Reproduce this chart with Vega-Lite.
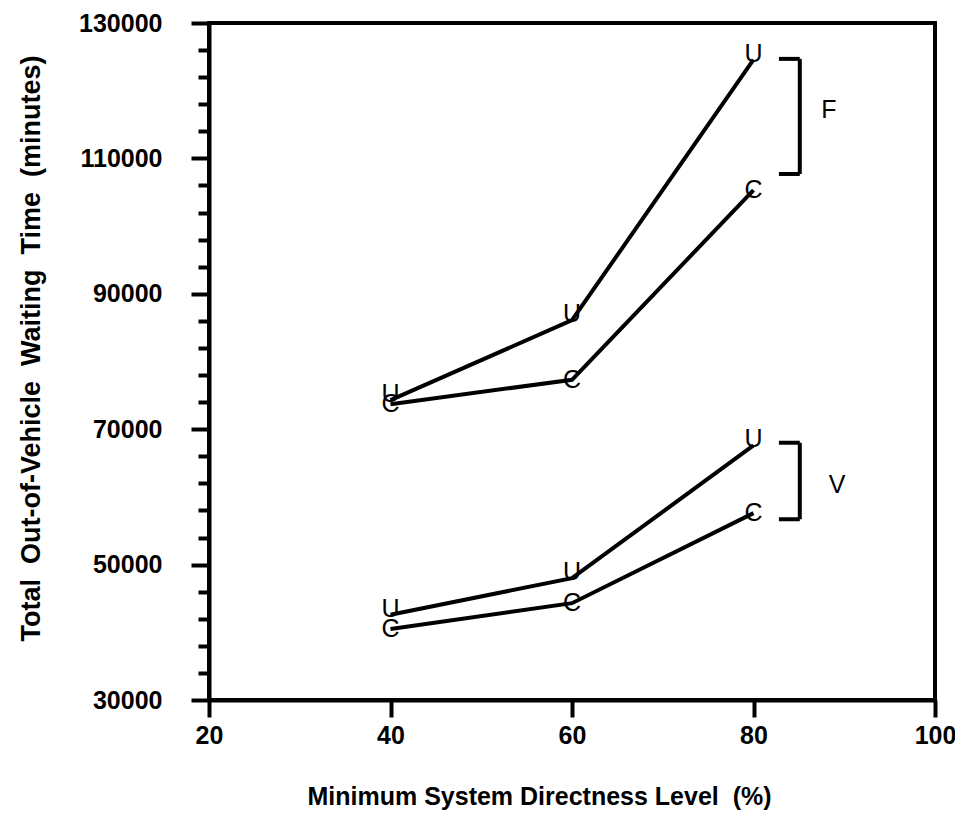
{
  "$schema": "https://vega.github.io/schema/vega-lite/v6.json",
  "width": 726,
  "height": 677,
  "autosize": {"type": "none"},
  "padding": {"left": 209, "top": 23, "right": 20, "bottom": 126},
  "background": "white",
  "config": {
    "view": {"stroke": "black", "strokeWidth": 4},
    "font": "Liberation Sans"
  },
  "datasets": {
    "series": [
      {"group": "F", "marker": "U", "series": "F-U", "x": 40, "y": 74300},
      {"group": "F", "marker": "U", "series": "F-U", "x": 60, "y": 86100},
      {"group": "F", "marker": "U", "series": "F-U", "x": 80, "y": 124600},
      {"group": "F", "marker": "C", "series": "F-C", "x": 40, "y": 73700},
      {"group": "F", "marker": "C", "series": "F-C", "x": 60, "y": 77300},
      {"group": "F", "marker": "C", "series": "F-C", "x": 80, "y": 105300},
      {"group": "V", "marker": "U", "series": "V-U", "x": 40, "y": 42600},
      {"group": "V", "marker": "U", "series": "V-U", "x": 60, "y": 48000},
      {"group": "V", "marker": "U", "series": "V-U", "x": 80, "y": 67600},
      {"group": "V", "marker": "C", "series": "V-C", "x": 40, "y": 40500},
      {"group": "V", "marker": "C", "series": "V-C", "x": 60, "y": 44300},
      {"group": "V", "marker": "C", "series": "V-C", "x": 80, "y": 57600}
    ],
    "bracketSpine": [
      {"group": "F", "x": 85.1, "y": 124700, "y2": 107700},
      {"group": "V", "x": 85.1, "y": 68000, "y2": 56700}
    ],
    "bracketEnds": [
      {"group": "F", "x": 82.8, "x2": 85.1, "y": 124700},
      {"group": "F", "x": 82.8, "x2": 85.1, "y": 107700},
      {"group": "V", "x": 82.8, "x2": 85.1, "y": 68000},
      {"group": "V", "x": 82.8, "x2": 85.1, "y": 56700}
    ],
    "groupLabels": [
      {"label": "F", "x": 88.3, "y": 117100},
      {"label": "V", "x": 89.2, "y": 61800}
    ]
  },
  "encoding": {
    "x": {
      "field": "x",
      "type": "quantitative",
      "scale": {"domain": [20, 100], "nice": false, "zero": false},
      "axis": {
        "title": "Minimum System Directness Level \u00a0(%)",
        "titleX": 330,
        "values": [20, 40, 60, 80, 100],
        "grid": false,
        "domainColor": "black",
        "domainWidth": 4,
        "tickColor": "black",
        "tickWidth": 4,
        "tickSize": 17,
        "labelFont": "Liberation Sans",
        "labelFontWeight": "bold",
        "labelFontSize": 25,
        "labelColor": "black",
        "labelPadding": 6,
        "labelFlush": false,
        "labelOverlap": false,
        "titleFont": "Liberation Sans",
        "titleFontWeight": "bold",
        "titleFontSize": 25,
        "titleColor": "black",
        "titlePadding": 36
      }
    },
    "y": {
      "field": "y",
      "type": "quantitative",
      "scale": {"domain": [30000, 130000], "nice": false, "zero": false},
      "axis": {
        "title": "Total \u00a0Out-of-Vehicle \u00a0Waiting \u00a0Time \u00a0(minutes)",
        "titleY": 325,
        "values": [30000, 34000, 38000, 42000, 46000, 50000, 54000, 58000, 62000, 66000, 70000, 74000, 78000, 82000, 86000, 90000, 94000, 98000, 102000, 106000, 110000, 114000, 118000, 122000, 126000, 130000],
        "format": "d",
        "labelExpr": "datum.value % 20000 == 10000 ? datum.label : ''",
        "grid": false,
        "domainColor": "black",
        "domainWidth": 4,
        "tickColor": "black",
        "tickWidth": 4,
        "tickSize": {"condition": {"test": "datum.value % 20000 == 10000", "value": 18}, "value": 11},
        "labelFont": "Liberation Sans",
        "labelFontWeight": "bold",
        "labelFontSize": 25,
        "labelColor": "black",
        "labelPadding": 29,
        "labelFlush": false,
        "labelOverlap": false,
        "titleFont": "Liberation Sans",
        "titleFontWeight": "bold",
        "titleFontSize": 27,
        "titleColor": "black",
        "titlePadding": 33
      }
    }
  },
  "layer": [
    {
      "data": {"name": "series"},
      "mark": {"type": "line", "color": "black", "strokeWidth": 4},
      "encoding": {"detail": {"field": "series", "type": "nominal"}}
    },
    {
      "data": {"name": "series"},
      "transform": [{"filter": "datum.marker == 'U'"}],
      "mark": {"type": "text", "color": "black", "fontSize": 25, "font": "Liberation Sans", "baseline": "alphabetic", "dy": 2},
      "encoding": {"text": {"field": "marker", "type": "nominal"}}
    },
    {
      "data": {"name": "series"},
      "transform": [{"filter": "datum.marker == 'C'"}],
      "mark": {"type": "text", "color": "black", "fontSize": 25, "font": "Liberation Sans", "baseline": "middle"},
      "encoding": {"text": {"field": "marker", "type": "nominal"}}
    },
    {
      "data": {"name": "bracketSpine"},
      "mark": {"type": "rule", "color": "black", "strokeWidth": 4},
      "encoding": {"y2": {"field": "y2"}}
    },
    {
      "data": {"name": "bracketEnds"},
      "mark": {"type": "rule", "color": "black", "strokeWidth": 4},
      "encoding": {"x2": {"field": "x2"}}
    },
    {
      "data": {"name": "groupLabels"},
      "mark": {"type": "text", "color": "black", "fontSize": 25, "font": "Liberation Sans", "baseline": "middle", "align": "center"},
      "encoding": {"text": {"field": "label", "type": "nominal"}}
    }
  ]
}
